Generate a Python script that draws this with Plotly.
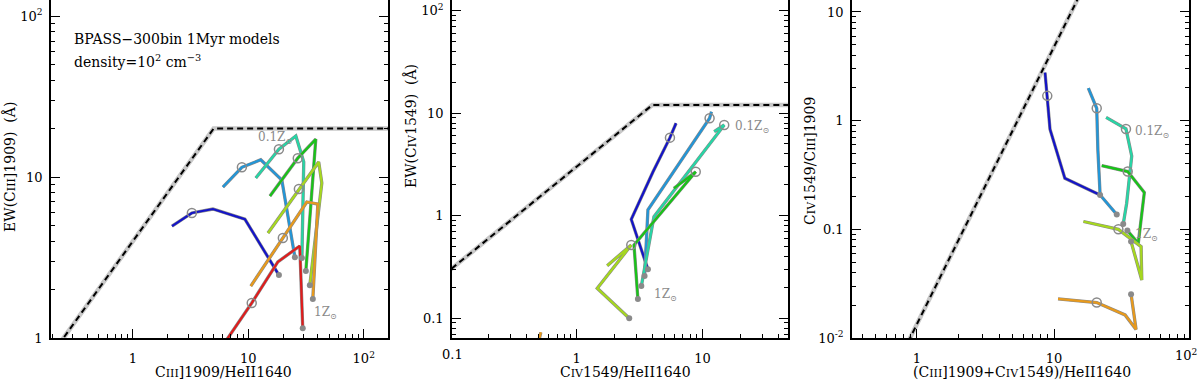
import plotly.graph_objects as go

# ---- data (tracks run low Z -> high Z) ----
TRACK_COLORS = {
    "blue": "#1414c8",
    "lblue": "#2296d8",
    "cyan": "#26d6a6",
    "green": "#18c418",
    "ygreen": "#a6d81e",
    "orange": "#e89a1c",
    "red": "#e01c1c",
}

# panel 1: x = CIII]/HeII, y = EW(CIII])
P1_X = {
    "blue": [2.18, 3.24, 4.93, 9.33, 18.4],
    "lblue": [6.02, 8.79, 12.8, 19.5, 25.3],
    "cyan": [11.6, 18.4, 25.8, 30.2, 29.1],
    "green": [15.4, 26.8, 38.4, 31.5],
    "ygreen": [14.8, 27.4, 40.7, 43.3, 34.1],
    "orange": [10.5, 19.9, 32.1, 40.0, 36.2],
    "red": [4.29, 10.7, 18.0, 27.9, 29.6],
}
P1_Y = {
    "blue": [4.96, 5.98, 6.33, 5.48, 2.46],
    "lblue": [8.67, 11.5, 12.8, 9.58, 3.18],
    "cyan": [9.86, 14.9, 18.0, 12.4, 3.14],
    "green": [7.62, 13.1, 17.2, 2.61],
    "ygreen": [4.49, 8.42, 12.4, 9.18, 2.13],
    "orange": [2.10, 4.18, 7.0, 6.8, 1.75],
    "red": [0.63, 1.65, 2.97, 3.73, 1.15],
}

# panel 2: x = CIV/HeII, y = EW(CIV)
P2_X = {
    "blue": [6.17, 5.52, 4.05, 2.72, 3.69],
    "lblue": [11.8, 11.4, 3.69, 3.47],
    "cyan": [12.4, 14.9, 4.12, 3.27],
    "green": [5.94, 8.85, 2.86, 3.07],
    "ygreen": [1.75, 2.72, 1.46, 2.62],
    "orange": [0.45, 0.52],
}
P2_Y = {
    "blue": [7.96, 5.76, 2.68, 0.92, 0.30],
    "lblue": [10.3, 8.9, 1.14, 0.258],
    "cyan": [6.59, 7.66, 0.978, 0.206],
    "green": [1.85, 2.68, 0.518, 0.154],
    "ygreen": [0.326, 0.518, 0.196, 0.100],
    "orange": [0.035, 0.073],
}

# panel 3: x = (CIII]+CIV)/HeII, y = CIV/CIII]
P3_X = {
    "blue": [8.60, 8.93, 9.35, 12.0, 21.7],
    "lblue": [17.8, 20.5, 20.9, 21.7, 28.7],
    "cyan": [24.0, 33.5, 36.9, 33.9, 32.0],
    "green": [22.3, 34.5, 45.6, 41.2, 34.3],
    "ygreen": [16.4, 29.5, 43.2, 43.7, 36.5],
    "orange": [10.7, 20.5, 33.0, 39.7, 36.5],
}
P3_Y = {
    "blue": [2.76, 1.69, 0.834, 0.295, 0.207],
    "lblue": [1.99, 1.30, 0.537, 0.207, 0.137],
    "cyan": [1.07, 0.839, 0.473, 0.174, 0.112],
    "green": [0.385, 0.340, 0.218, 0.0745, 0.0973],
    "ygreen": [0.118, 0.100, 0.0693, 0.0342, 0.0771],
    "orange": [0.0229, 0.0212, 0.0163, 0.0120, 0.0253],
}

# demarcation lines (dashed)
P1_BOUND_X = [0.1, 5, 200]
P1_BOUND_Y = [0.4, 20, 20]
P2_BOUND_X = [0.05, 4, 100]
P2_BOUND_Y = [0.15, 12, 12]
P3_BOUND_X = [0.8, 16]
P3_BOUND_Y = [0.0076, 15.8]

FONT = "DejaVu Serif"
GREY = "#8a8a8a"

fig = go.Figure()


def add_panel(n, xs, ys, bx, by):
    xa = "x" if n == 1 else f"x{n}"
    ya = "y" if n == 1 else f"y{n}"
    # boundary: grey underlay + black dashes
    fig.add_trace(go.Scatter(x=bx, y=by, mode="lines", xaxis=xa, yaxis=ya,
                             line=dict(color="#c8c8c8", width=4.5), hoverinfo="skip"))
    fig.add_trace(go.Scatter(x=bx, y=by, mode="lines", xaxis=xa, yaxis=ya,
                             line=dict(color="black", width=2, dash="6px,4px"), hoverinfo="skip"))
    for key in xs:
        fig.add_trace(go.Scatter(x=xs[key], y=ys[key], mode="lines", xaxis=xa, yaxis=ya,
                                 line=dict(color=GREY, width=3.3), hoverinfo="skip"))
        fig.add_trace(go.Scatter(x=xs[key], y=ys[key], mode="lines", xaxis=xa, yaxis=ya,
                                 line=dict(color=TRACK_COLORS[key], width=2.2), name=key))
    for key in xs:
        if len(xs[key]) < 3:
            continue
        # open circle at 0.1 Zsun, filled dot at 1 Zsun
        fig.add_trace(go.Scatter(x=[xs[key][1]], y=[ys[key][1]], mode="markers", xaxis=xa, yaxis=ya,
                                 marker=dict(symbol="circle-open", size=9, color=GREY,
                                             line=dict(width=1.5, color=GREY)), hoverinfo="skip"))
        fig.add_trace(go.Scatter(x=[xs[key][-1]], y=[ys[key][-1]], mode="markers", xaxis=xa, yaxis=ya,
                                 marker=dict(size=6, color=GREY), hoverinfo="skip"))


add_panel(1, P1_X, P1_Y, P1_BOUND_X, P1_BOUND_Y)
add_panel(2, P2_X, P2_Y, P2_BOUND_X, P2_BOUND_Y)
add_panel(3, P3_X, P3_Y, P3_BOUND_X, P3_BOUND_Y)

MINOR = [m * 10 ** k for k in range(-3, 3) for m in range(2, 10)]


def log_axis(domain, rng, vals, text, mirror, anchor, standoff):
    return dict(
        type="log", domain=domain, range=rng, anchor=anchor,
        tickmode="array", tickvals=vals, ticktext=text,
        ticks="inside", ticklen=9, tickwidth=1.2, tickcolor="black",
        minor=dict(ticks="inside", ticklen=4.5, tickwidth=1, tickcolor="black",
                   tickmode="array", tickvals=MINOR),
        showline=True, linecolor="black", linewidth=1.5, mirror=mirror,
        showgrid=False, zeroline=False, ticklabelstandoff=standoff,
        tickfont=dict(family=FONT, size=13, color="black"),
    )


fig.update_layout(
    xaxis=log_axis([51 / 1200, 388 / 1200], [-0.71, 2.21], [1, 10, 100],
                   ["1", "10", "10<sup>2</sup>"], False, "y", 8),
    yaxis=log_axis([0, 1], [0, 2.1], [1, 10, 100],
                   ["1", "10", "10<sup>2</sup>"], "ticks", "x", 4),
    xaxis2=log_axis([452 / 1200, 788 / 1200], [-0.99, 1.68], [1, 10],
                    ["1", "10"], False, "y2", 8),
    yaxis2=log_axis([0, 1], [-1.192, 2.102], [0.1, 1, 10, 100],
                    ["0.1", "1", "10", "10<sup>2</sup>"], "ticks", "x2", 4),
    xaxis3=log_axis([852 / 1200, 1189 / 1200], [-0.474, 1.985], [1, 10],
                    ["1", "10"], False, "y3", 8),
    yaxis3=log_axis([0, 1], [-2.0, 1.11], [0.01, 0.1, 1, 10],
                    ["10<sup>-2</sup>", "0.1", "1", "10"], "ticks", "x3", 4),
    width=1200, height=381,
    margin=dict(l=0, r=0, t=0, b=43),
    plot_bgcolor="white", paper_bgcolor="white",
    showlegend=False,
)

SC = "<span style='font-size:11px'>{}</span>"
ann_font = dict(family=FONT, size=14, color="black")
tick_font = dict(family=FONT, size=13, color="black")
lab_font = dict(family=FONT, size=12, color=GREY)
annotations = [
    # axis titles
    dict(x=223 / 1200, y=-0.1, text="C" + SC.format("III") + "]1909/HeII1640"),
    dict(x=625 / 1200, y=-0.1, text="C" + SC.format("IV") + "1549/HeII1640"),
    dict(x=1022 / 1200, y=-0.1, text="(C" + SC.format("III") + "]1909+C" + SC.format("IV") + "1549)/HeII1640"),
    dict(x=10 / 1200, y=0.506, text="EW(C" + SC.format("III") + "]1909)  (Å)", textangle=-90),
    dict(x=410 / 1200, y=0.627, text="EW(C" + SC.format("IV") + "1549)  (Å)", textangle=-90),
    dict(x=810 / 1200, y=0.524, text="C" + SC.format("IV") + "1549/C" + SC.format("III") + "]1909", textangle=-90),
]
for a in annotations:
    a.update(xref="paper", yref="paper", showarrow=False, font=ann_font,
             xanchor="center", yanchor="middle")

annotations += [
    # edge tick labels sitting on the frame corners
    dict(x=452 / 1200, y=-0.05, xref="paper", yref="paper", showarrow=False,
         text="0.1", font=tick_font, xanchor="center", yanchor="middle"),
    dict(x=1186 / 1200, y=-0.05, xref="paper", yref="paper", showarrow=False,
         text="10<sup>2</sup>", font=tick_font, xanchor="center", yanchor="middle"),
    dict(x=72 / 1200, y=0.914, xref="paper", yref="paper", xanchor="left", showarrow=False,
         text="BPASS\u2212300bin 1Myr models", font=ann_font),
    dict(x=72 / 1200, y=0.852, xref="paper", yref="paper", xanchor="left", showarrow=False,
         text="density=10<sup>2</sup> cm<sup>\u22123</sup>", font=ann_font),
    # metallicity labels
    dict(x=1.065, y=1.242, xref="x", yref="y", text="0.1Z<sub>\u2299</sub>"),
    dict(x=1.550, y=0.155, xref="x", yref="y", text="1Z<sub>\u2299</sub>"),
    dict(x=1.241, y=0.865, xref="x2", yref="y2", text="0.1Z<sub>\u2299</sub>"),
    dict(x=0.597, y=-0.773, xref="x2", yref="y2", text="1Z<sub>\u2299</sub>"),
    dict(x=1.577, y=-0.104, xref="x3", yref="y3", text="0.1Z<sub>\u2299</sub>"),
    dict(x=1.577, y=-1.052, xref="x3", yref="y3", text="1Z<sub>\u2299</sub>"),
]
for a in annotations[-6:]:
    a.update(xanchor="left", showarrow=False, font=lab_font)

fig.update_layout(annotations=annotations)

# drop the page margin and hide the hover toolbar
PAGE_FIX = (
    "document.body.style.margin='0';"
    "var s=document.createElement('style');"
    "s.textContent='.modebar-container{display:none !important;}';"
    "document.head.appendChild(s);"
)
fig.write_html("out.html", post_script=PAGE_FIX)
